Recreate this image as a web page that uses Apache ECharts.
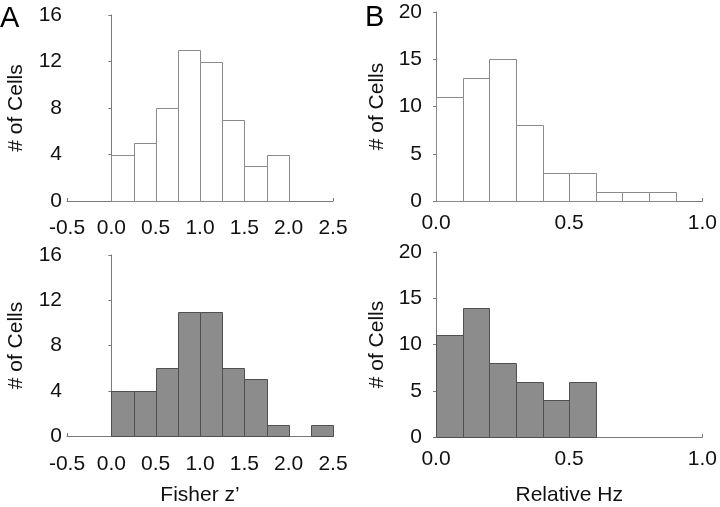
<!DOCTYPE html>
<html>
<head>
<meta charset="utf-8">
<script src="https://cdn.jsdelivr.net/npm/echarts@6/dist/echarts.min.js"></script>
<style>html,body{margin:0;padding:0;background:#fff}#c{width:720px;height:507px}</style>
</head>
<body>
<div id="c"></div>
<script>
// Bin edges (left edges) and widths
var fisherBinStarts = [0, 0.25, 0.5, 0.75, 1.0, 1.25, 1.5, 1.75, 2.0, 2.25];
var fisherBinWidth = 0.25;
var fisherTopCounts = [4, 5, 8, 13, 12, 7, 3, 4];
var fisherBottomCounts = [4, 4, 6, 11, 11, 6, 5, 1, 0, 1];
var hzBinStarts = [0, 0.1, 0.2, 0.3, 0.4, 0.5, 0.6, 0.7, 0.8];
var hzBinWidth = 0.1;
var hzTopCounts = [11, 13, 15, 8, 3, 3, 1, 1, 1];
var hzBottomCounts = [11, 14, 8, 6, 4, 6];
var fisherTicks = [-0.5, 0.0, 0.5, 1.0, 1.5, 2.0, 2.5];
var hzTicks = [0.0, 0.5, 1.0];
var yTicksA = [0, 4, 8, 12, 16];
var yTicksB = [0, 5, 10, 15, 20];

var FONT = 'Liberation Sans, Arial, sans-serif';
var AXIS_COLOR = '#7a7a7a';

function toData(starts, width, counts) {
  var out = [];
  for (var i = 0; i < counts.length; i++) {
    if (counts[i] > 0) out.push([starts[i], starts[i] + width, counts[i]]);
  }
  return out;
}

function makeRender(fill, stroke) {
  return function (params, api) {
    var p0 = api.coord([api.value(0), api.value(2)]);
    var p1 = api.coord([api.value(1), 0]);
    return {
      type: 'rect',
      shape: { x: Math.round(p0[0]) + 0.5, y: Math.round(p0[1]) + 0.5,
               width: Math.round(p1[0]) - Math.round(p0[0]),
               height: Math.round(p1[1]) - Math.round(p0[1]) },
      style: { fill: fill, stroke: stroke, lineWidth: 1 }
    };
  };
}

function xAxis(idx, ticks, labelMargin, name, nameGap) {
  return {
    gridIndex: idx, type: 'value',
    min: ticks[0], max: ticks[ticks.length - 1], interval: ticks[1] - ticks[0],
    axisLine: { show: true, lineStyle: { color: AXIS_COLOR, width: 1 } },
    axisTick: { show: true, inside: true, length: 3, lineStyle: { color: AXIS_COLOR } },
    splitLine: { show: false },
    axisLabel: { color: '#111', fontSize: 21, fontFamily: FONT, margin: labelMargin,
                 showMinLabel: true, showMaxLabel: true,
                 formatter: function (v) { return v.toFixed(1); } },
    name: name, nameLocation: 'middle', nameGap: nameGap,
    nameTextStyle: { color: '#111', fontSize: 21, fontFamily: FONT }
  };
}

function yAxis(idx, ticks, labelMargin, nameGap) {
  return {
    gridIndex: idx, type: 'value',
    min: ticks[0], max: ticks[ticks.length - 1], interval: ticks[1] - ticks[0],
    axisLine: { show: true, lineStyle: { color: AXIS_COLOR, width: 1 } },
    axisTick: { show: true, length: 3, lineStyle: { color: AXIS_COLOR } },
    splitLine: { show: false },
    axisLabel: { color: '#111', fontSize: 21, fontFamily: FONT, margin: labelMargin },
    name: '# of Cells', nameLocation: 'middle', nameGap: nameGap, nameRotate: 90,
    nameTextStyle: { color: '#111', fontSize: 21, fontFamily: FONT }
  };
}

var chart = echarts.init(document.getElementById('c'), null, { renderer: 'canvas' });
chart.setOption({
  backgroundColor: '#fff',
  animation: false,
  grid: [
    { left: 67, top: 15, width: 266, height: 186 },
    { left: 436, top: 12, width: 270, height: 189 },
    { left: 67, top: 255, width: 266, height: 185 },
    { left: 436, top: 252, width: 270, height: 189 }
  ],
  xAxis: [
    xAxis(0, fisherTicks, 17, '', 0),
    xAxis(1, hzTicks, 12, '', 0),
    xAxis(2, fisherTicks, 18, 'Fisher z’', 49),
    xAxis(3, hzTicks, 12, 'Relative Hz', 48)
  ],
  yAxis: [
    yAxis(0, yTicksA, 5, 40),
    yAxis(1, yTicksB, 14, 48),
    yAxis(2, yTicksA, 5, 40),
    yAxis(3, yTicksB, 14, 48)
  ],
  graphic: [
    { type: 'text', left: 0, top: 4, style: { text: 'A', fontSize: 29, fontFamily: FONT, fill: '#000' } },
    { type: 'text', left: 365, top: 3, style: { text: 'B', fontSize: 29, fontFamily: FONT, fill: '#000' } }
  ],
  series: [
    { type: 'custom', xAxisIndex: 0, yAxisIndex: 0, renderItem: makeRender('#ffffff', '#8a8a8a'),
      data: toData(fisherBinStarts, fisherBinWidth, fisherTopCounts) },
    { type: 'custom', xAxisIndex: 1, yAxisIndex: 1, renderItem: makeRender('#ffffff', '#8a8a8a'),
      data: toData(hzBinStarts, hzBinWidth, hzTopCounts) },
    { type: 'custom', xAxisIndex: 2, yAxisIndex: 2, renderItem: makeRender('#8c8c8c', '#505050'),
      data: toData(fisherBinStarts, fisherBinWidth, fisherBottomCounts) },
    { type: 'custom', xAxisIndex: 3, yAxisIndex: 3, renderItem: makeRender('#8c8c8c', '#505050'),
      data: toData(hzBinStarts, hzBinWidth, hzBottomCounts) }
  ]
});
</script>
</body>
</html>
